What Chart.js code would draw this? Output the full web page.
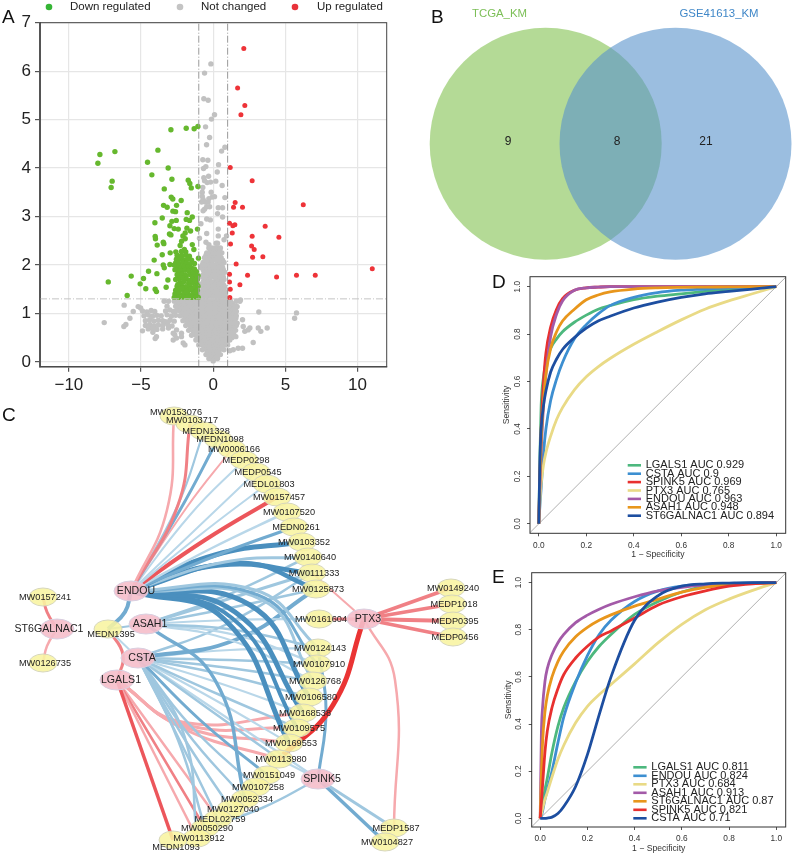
<!DOCTYPE html>
<html>
<head>
<meta charset="utf-8">
<title>Figure</title>
<script src="https://cdn.jsdelivr.net/npm/chart.js@4/dist/chart.umd.min.js"></script>
<style>
    html, body {margin: 0; padding: 0; background: #fff;}
    #page {position: relative; width: 796px; height: 856px; overflow: hidden;}
    canvas {position: absolute;}
    .letter {position: absolute; font: 19px "Liberation Sans", Arial, sans-serif; color: #111; line-height: 19px;}
</style>
</head>
<body>
<div id="page">
    <canvas id="volcano" width="400" height="400" style="left:0;top:0"></canvas>
    <canvas id="venn" width="386" height="270" style="left:410px;top:0"></canvas>
    <canvas id="network" width="485" height="456" style="left:0;top:400px"></canvas>
    <canvas id="rocTrain" width="316" height="300" style="left:480px;top:260px"></canvas>
    <canvas id="rocTest" width="316" height="300" style="left:480px;top:556px"></canvas>
    <div class="letter" style="left:2px;top:7px">A</div>
    <div class="letter" style="left:431px;top:7px">B</div>
    <div class="letter" style="left:2px;top:405px">C</div>
    <div class="letter" style="left:492px;top:272px">D</div>
    <div class="letter" style="left:492px;top:567px">E</div>
</div>
<script>
// panel A
const regulationLabels = ["Down regulated", "Not changed", "Up regulated"];
const volcanoXTicks = [-10, -5, 0, 5, 10];
const volcanoYTicks = [0, 1, 2, 3, 4, 5, 6, 7];

const upPoints = [[2.12,6.47],[1.69,5.65],[2.19,5.29],[1.92,5.1],[1.18,4.01],[2.7,3.74],[1.52,3.29],[1.41,3.19],[2.03,3.19],[6.24,3.24],
    [1.13,2.86],[1.5,2.83],[1.36,2.81],[3.6,2.8],[1.32,2.66],[2.7,2.59],[4.55,2.57],[1.2,2.43],[2.66,2.39],[2.84,2.32],[3.44,2.17],[2.73,2.16],
    [1.59,2.02],[11.02,1.92],[1.13,1.81],[2.38,1.79],[4.39,1.75],[5.77,1.79],[7.07,1.79],[1.13,1.65],[1.85,1.59],[1.18,1.5],[1.15,1.33]];

const downPoints = [[-2.93,4.79],[-1.87,4.82],[-1.32,4.81],[-1.06,4.86],[-7.85,4.28],[-6.81,4.34],[-7.99,4.1],[-3.83,4.37],[-4.55,4.12],[-3.12,4],
    [-4.25,3.86],[-7,3.73],[-7.07,3.6],[-2.86,3.77],[-1.73,3.75],[-1.62,3.68],[-1.52,3.59],[-1.06,3.62],[-3.39,3.57],[-2.91,3.4],[-2.8,3.36],[-2.22,3.33],
    [-3.44,3.23],[-3.19,3.19],[-2.54,3.23],[-2.79,3.11],[-2.61,3.1],[-1.8,3.08],[-1.45,2.99],[-1.87,2.94],[-1.64,2.92],[-3.53,2.97],[-4.04,2.87],[-2.86,2.9],
    [-2.56,2.92],[-3,2.81],[-2.7,2.75],[-2.42,2.74],[-1.82,2.76],[-1.57,2.7],[-1.09,2.74],[-3.03,2.64],[-2.93,2.62],[-1.94,2.66],[-2.1,2.6],[-4.02,2.59],
    [-4,2.54],[-2.19,2.49],[-1.94,2.54],[-3.46,2.47],[-3.42,2.44],[-3.88,2.41],[-1.45,2.42],[-2.29,2.4],[-1.34,2.32],[-2.59,2.27],[-2.98,2.25],[-3.53,2.21],
    [-2,2.32],[-4.09,2.1],[-1.02,2.14],[-3,2.01],[-3.46,2],[-3.39,1.94],[-4.48,1.87],[-3.9,1.82],[-5.68,1.77],[-4.83,1.72],[-7.27,1.65],[-5.06,1.61],
    [-4.67,1.51],[-4.02,1.5],[-3.93,1.45],[-5.96,1.37],[-3.14,1.69],[-3.26,1.54],
    [-2.2,2.28],[-1.9,2.27],[-2.5,2.2],[-2.2,2.19],[-1.9,2.21],[-1.65,2.18],[-2.55,2.12],[-2.3,2.13],[-2.05,2.11],[-1.8,2.12],[-1.5,2.1],
    [-2.6,2.04],[-2.35,2.03],[-2.1,2.05],[-1.85,2.04],[-1.6,2.02],[-1.3,2.03],[-2.5,1.96],[-2.25,1.95],[-2,1.97],[-1.75,1.96],[-1.5,1.94],
    [-2.45,1.88],[-2.2,1.87],[-1.95,1.89],[-1.7,1.88],[-1.15,1.86],[-2.4,1.8],[-2.15,1.81],[-1.9,1.79],[-1.6,1.8],[-1.3,1.78],
    [-2.35,1.72],[-2.1,1.73],[-1.85,1.71],[-1.45,1.72],[-1.1,1.7],[-2.3,1.64],[-2.05,1.65],[-1.7,1.63],[-1.4,1.64],[-1.15,1.62],
    [-2.5,1.56],[-2.2,1.57],[-1.9,1.55],[-1.6,1.56],[-1.3,1.54],[-1.05,1.56],[-2.6,1.48],[-2.3,1.49],[-2,1.47],[-1.7,1.48],[-1.4,1.46],[-1.1,1.48],
    [-2.65,1.4],[-2.35,1.41],[-2.05,1.39],[-1.75,1.4],[-1.45,1.38],[-1.15,1.4],[-2.7,1.33],[-2.4,1.33],[-2.1,1.34],[-1.8,1.33],[-1.5,1.33],[-1.2,1.34],[-1.03,1.33],
    [-2.45,1.6],[-2.6,1.7],[-2.5,1.8],[-1.25,1.68],[-1.05,1.78],[-1.4,1.85],[-2.65,1.9],[-2.7,2.0],[-1.55,1.5],[-1.85,1.44],[-2.15,1.52],[-1.25,1.44],[-1.6,1.68],[-1.3,1.92]];

const notChangedPoints = [[-.16,6.15],[-.6,5.96],[-.65,5.43],[-.35,5.4],[.09,5.1],[-.12,5.01],[-.53,4.85],[-.25,4.63],[-.46,4.48],[.81,4.43],[.58,4.35],
    [-.72,4.17],[-.37,4.16],[.37,4.07],[-.51,4.03],[-.67,3.99],[.28,3.92],[-.32,3.83],[-.65,3.8],[-.6,3.74],[.18,3.73],[-.42,3.7],[-.18,3.71],[.62,3.64],
    [-.72,3.6],[-.76,3.5],[-.14,3.5],[-.76,3.42],[.09,3.41],[.81,3.39],[-.3,3.37],[-.07,3.4],
    [-.8,3.3],[-.7,3.35],[-.55,3.3],[-.35,3.3],[-.25,3.2],[-.45,3.2],[-.6,3.15],[-.7,3.12],[.35,3.18],[.65,3.18],[.3,3.06],[.65,2.99],[-.45,2.95],[-.2,2.93],
    [-.85,2.85],[.35,2.74],[-.45,2.65],[.35,2.6],[.92,2.6],[.75,2.52],[-.95,2.55],[.2,2.45],[-.5,2.47],[-.3,2.42],[.3,2.45],
    // left cloud and sparse points
    [-7.55,.81],[-6.17,1.17],[-6.19,.73],[-6.05,.77],[-5.77,.9],[-5.54,1.04],[-5.2,1.14],[-5.03,1.11],[-4.9,.64],[-4.18,.61],[-4.02,.48],[-3.93,.52],
    [-4.9,1.05],[-4.6,1.03],[-4.3,1.06],[-4.05,1.04],[-3.3,1.05],[-3,1.07],[-2.75,1.04],[-4.8,.95],[-4.5,.97],[-4.2,.94],[-3.9,.96],[-3.6,.95],[-3.2,.97],[-2.9,.94],[-2.6,.96],
    [-4.7,.85],[-4.4,.87],[-4.1,.84],[-3.8,.86],[-3.5,.85],[-3.3,.83],[-3,.86],[-2.7,.84],[-4.7,.75],[-4.4,.77],[-4.1,.74],[-3.8,.76],[-3.5,.75],[-3.15,.77],[-2.85,.74],
    [-4.5,.68],[-4.2,.69],[-3.9,.67],[-3.5,.68],[-3.1,.7],[-2.77,.59],[-2.54,.66],[-2.2,.59],[-2.77,.45],[-2.54,.49],[-2.2,.52],[-2.08,.39],[-1.96,.35],[-2.66,.56],
    // right side
    [2.03,.87],[3.16,1.03],[5.77,1.01],[5.64,.9],[3.12,.7],[3.3,.63],[3.74,.7],[2.08,.73],[2.19,.63],[2.42,.66],[2.54,.7],[2.77,.4],[2.03,.28],[1.73,.28],
    [1.39,.25],[1.15,.23],[1.57,.52],[1.39,.59],[1.66,1.14],[1.89,1.28],[1.6,1.04],[1.57,.9],[1.66,.8]];

// rows of the dense grey block: -log10(p) then the fold changes seen on that row
const notChangedRows = [
    [2.35, [-.3,-.1,.15,.35,.5]],
    [2.3, [-.2,.05,.3,.45]],
    [2.25, [-.45,-.2,0,.2,.4,.6]],
    [2.2, [-.5,-.25,-.05,.2,.45]],
    [2.15, [-.6,-.35,-.15,.1,.3,.55]],
    [2.1, [-.5,-.25,0,.2,.4,.65]],
    [2.05, [-.7,-.4,-.1,.3,.5,.75]],
    [2, [-.75,-.5,-.3,-.05,.15,.4,.6]],
    [1.95, [-.85,-.55,-.2,.05,.4,.65]],
    [1.9, [-.7,-.45,-.1,.15,.4,.7]],
    [1.85, [-.6,-.3,0,.25,.55,.8]],
    [1.8, [-.7,-.4,-.15,.15,.4,.65]],
    [1.75, [-.8,-.5,-.15,.1,.45,.7]],
    [1.7, [-.6,-.25,.2,.45,.75]],
    [1.65, [-.7,-.35,-.05,.3,.6]],
    [1.6, [-.85,-.55,-.2,.1,.4,.7]],
    [1.55, [-.75,-.45,-.1,.2,.5,.8]],
    [1.5, [-.65,-.35,-.05,.25,.5,.7]],
    [1.45, [-.85,-.55,-.25,.05,.35,.65,.85]],
    [1.4, [-.75,-.4,-.15,.15,.45,.75]],
    [1.35, [-.9,-.6,-.3,0,.3,.6,.85]],
    [1.3, [-1.9,-1.6,-1.25,-.95,-.75,-.45,-.15,.15,.45,.75,.95]],
    [1.25, [-3.4,-3.1,-2.7,-2.4,-2.1,-1.8,-1.5,-1.2,-.9,-.6,-.3,0,.3,.6,.9,1.2,1.6,1.85]],
    [1.2, [-2.45,-2.25,-1.95,-1.65,-1.35,-1.05,-.75,-.45,-.15,.15,.45,.75,1.05,1.35]],
    [1.15, [-3.2,-2.6,-2.2,-1.9,-1.6,-1.3,-1,-.7,-.4,-.1,.2,.5,.8,1.1,1.4,1.6]],
    [1.1, [-2.45,-2.15,-1.85,-1.55,-1.25,-.95,-.65,-.35,-.05,.25,.55,.85,1.15,1.45]],
    [1.05, [-2.6,-2.3,-2,-1.7,-1.4,-1.1,-.8,-.5,-.2,.1,.4,.7,1,1.3,1.55]],
    [1, [-2.15,-1.85,-1.55,-1.25,-.95,-.65,-.35,-.05,.25,.55,.85,1.15,1.45]],
    [.95, [-2.3,-2,-1.7,-1.4,-1.1,-.8,-.5,-.2,.1,.4,.7,1,1.3,1.6]],
    [.9, [-1.95,-1.65,-1.35,-1.05,-.75,-.45,-.15,.15,.45,.75,1.05,1.35]],
    [.85, [-2.1,-1.8,-1.5,-1.2,-.9,-.6,-.3,0,.3,.6,.9,1.2,1.5]],
    [.8, [-1.75,-1.45,-1.15,-.85,-.55,-.25,.05,.35,.65,.95,1.25,1.5]],
    [.75, [-1.9,-1.6,-1.3,-1,-.7,-.4,-.1,.2,.5,.8,1.1,1.4,1.6]],
    [.7, [-1.55,-1.25,-.95,-.65,-.35,-.05,.25,.55,.85,1.15,1.45]],
    [.65, [-1.7,-1.4,-1.1,-.8,-.5,-.2,.1,.4,.7,1,1.3,1.55]],
    [.6, [-1.35,-1.05,-.75,-.45,-.15,.15,.45,.75,1.05,1.35]],
    [.55, [-1.5,-1.2,-.9,-.6,-.3,0,.3,.6,.9,1.2,1.45]],
    [.5, [-1.05,-.75,-.45,-.15,.15,.45,.75,1.05,1.3]],
    [.45, [-1.2,-.9,-.6,-.3,0,.3,.6,.9,1.15]],
    [.4, [-.85,-.55,-.25,.05,.35,.65,.95]],
    [.35, [-1,-.7,-.4,-.1,.2,.5,.8,1]],
    [.3, [-.6,-.3,0,.3,.6]],
    [.25, [-.75,-.45,-.15,.15,.45,.75]],
    [.2, [-.4,-.15,.1,.35]],
    [.15, [-.5,-.25,0,.25,.5]],
    [.1, [-.2,0,.2]],
    [.07, [-.3,-.1,.1,.3]],
    [.02, [0]]
];

// panel B
const setNames = ["TCGA_KM", "GSE41613_KM"];
const setCounts = ["9", "8", "21"];

// panel C
const geneNames = ["ENDOU", "ASAH1", "CSTA", "LGALS1", "PTX3", "SPINK5", "ST6GALNAC1"];
const geneX = [131, 146, 138, 117, 364, 318, 57];
const geneY = [591, 624, 658, 680, 619, 779, 629];

const mirnaNames = ["MW0153076", "MW0103717", "MEDN1328", "MEDN1098", "MW0006166", "MEDP0298", "MEDP0545", "MEDL01803", "MW0157457", "MW0107520",
    "MEDN0261", "MW0103352", "MW0140640", "MW0111333", "MW0125873", "MW0161604", "MW0149240", "MEDP1018", "MEDP0395", "MEDP0456",
    "MW0124143", "MW0107910", "MW0126768", "MW0106580", "MW0168538", "MW0109575", "MW0169553", "MW0113980", "MW0151049", "MW0107258",
    "MW0052334", "MW0127040", "MEDL02759", "MW0050290", "MW0113912", "MEDN1093", "MEDP1587", "MW0104827", "MW0157241", "MW0126735", "MEDN1395"];
const mirnaX = [174, 190, 204, 218, 232, 244, 256, 267, 277, 287, 294, 302, 308, 312, 316, 319, 451, 452, 453, 453,
    318, 317, 313, 309, 303, 297, 289, 279, 267, 256, 245, 231, 218, 205, 197, 173, 394, 385, 43, 43, 108];
const mirnaY = [416, 424, 431, 439, 449, 460, 472, 484, 497, 512, 527, 542, 557, 573, 589, 619, 588, 604, 621, 637,
    648, 664, 681, 697, 713, 728, 743, 759, 775, 787, 799, 809, 819, 828, 838, 840, 828, 842, 597, 663, 629];
const labelShift = {ST6GALNAC1: [-8, 0], MEDN1395: [3, 5], MEDN1093: [3, 7], ENDOU: [5, 0], MW0153076: [2, -4], MW0103717: [2, -4]};

const edgeColours = {PB: "#b9d7e9", LB: "#9fc7df", MB: "#72abd0", DB: "#4a8fbe", PR: "#f6a9ad", MR: "#f08085", SR: "#ec565b", XR: "#ea3434"};
// from, to, waypoint x, waypoint y (null when straight), width, colour
const edges = [
    ["ENDOU","MW0153076",167,510,2.6,"PR"],["ENDOU","MW0103717",178,505,3,"MR"],["ENDOU","MEDN1328",177,507,2.2,"LB"],["ENDOU","MEDN1098",180,510,3,"MB"],
    ["ENDOU","MW0006166",187,507,2,"PR"],["ENDOU","MEDP0298",190,515,2,"PB"],["ENDOU","MEDP0545",195,530,2,"PB"],["ENDOU","MEDL01803",200,535,2,"PB"],
    ["ENDOU","MW0157457",205,540,4,"SR"],["ENDOU","MW0107520",212,548,2.5,"PB"],["ENDOU","MEDN0261",215,556,3.2,"MB"],["ENDOU","MW0103352",215,555,5,"DB"],
    ["ENDOU","MW0140640",225,562,3,"LB"],["ENDOU","MW0111333",220,565,5,"DB"],["ENDOU","MW0125873",240,563,4.5,"DB"],["ENDOU","MEDN1395",125,612,4,"MB"],
    ["ENDOU","MW0124143",255,590,3,"LB"],["ENDOU","MW0107910",258,595,3,"MB"],["ENDOU","MW0126768",262,600,3,"LB"],["ENDOU","MW0106580",250,605,5,"DB"],
    ["ENDOU","MW0168538",235,612,5,"DB"],["ENDOU","MW0109575",232,618,4,"DB"],["ENDOU","MW0169553",225,620,5,"DB"],
    ["ASAH1","MW0161604",230,620,2.2,"PB"],["ASAH1","MW0125873",230,608,2.5,"LB"],["ASAH1","MW0111333",225,600,3,"LB"],["ASAH1","MW0140640",225,596,2.5,"LB"],
    ["ASAH1","MW0124143",235,630,2.5,"LB"],["ASAH1","MW0107910",235,635,2.2,"PB"],["ASAH1","MW0126768",230,640,2.2,"PB"],["ASAH1","MW0052334",215,680,3.5,"MB"],
    ["ASAH1","MEDN1395",null,null,2.2,"LB"],
    ["CSTA","MW0125873",235,640,4,"MB"],["CSTA","MW0111333",225,625,2.5,"LB"],["CSTA","MW0124143",230,650,2.2,"PB"],["CSTA","MW0107910",230,660,2.5,"LB"],
    ["CSTA","MW0126768",230,668,2.5,"LB"],["CSTA","MW0106580",225,675,2.5,"LB"],["CSTA","MW0168538",225,685,2.2,"PB"],["CSTA","MW0109575",220,695,2.5,"LB"],
    ["CSTA","MW0169553",215,700,2.2,"PB"],["CSTA","MW0113980",210,710,2.5,"LB"],["CSTA","MW0151049",200,720,3,"MB"],["CSTA","MW0107258",190,725,2.5,"LB"],
    ["CSTA","MW0052334",185,730,2.5,"LB"],["CSTA","MW0127040",182,735,2.5,"LB"],["CSTA","MEDL02759",178,737,2.5,"LB"],["CSTA","MW0050290",178,740,2.5,"LB"],
    ["CSTA","MW0113912",184,735,2.6,"LB"],["CSTA","MEDN1395",null,null,2,"PB"],["CSTA","SPINK5",null,null,2.2,"PB"],
    ["LGALS1","MEDN1093",null,null,3.5,"SR"],["LGALS1","MW0113912",null,null,2.5,"PR"],["LGALS1","MW0050290",null,null,2.5,"MR"],["LGALS1","MEDL02759",null,null,2.5,"PR"],
    ["LGALS1","MW0168538",182,722,3,"PR"],["LGALS1","MW0109575",182,724,3,"PR"],["LGALS1","MW0169553",182,726,3,"PR"],["LGALS1","MW0113980",182,728,3,"PR"],
    ["LGALS1","MEDN1395",123,655,3,"MR"],
    ["PTX3","MW0149240",null,null,3.5,"MR"],["PTX3","MEDP1018",null,null,3.5,"MR"],["PTX3","MEDP0395",null,null,4,"MR"],["PTX3","MEDP0456",null,null,3.5,"MR"],
    ["PTX3","MW0161604",null,null,3,"MR"],["PTX3","MW0111333",null,null,2,"PR"],["PTX3","MEDP1587",395,680,2.5,"PR"],["PTX3","MW0113980",333,705,5,"XR"],
    ["SPINK5","MW0124143",326,710,3,"MB"],["SPINK5","MW0113980",null,null,2.2,"PB"],["SPINK5","MW0050290",262,808,2.5,"LB"],["SPINK5","MEDP1587",null,null,3,"LB"],
    ["SPINK5","MW0104827",null,null,3.5,"MB"],
    ["ST6GALNAC1","MW0157241",47,612,3,"MR"],["ST6GALNAC1","MW0126735",47,646,2.5,"PR"]
];

// panels D and E share the false positive rates they were read at
const fpr = [0, .005, .01, .02, .03, .05, .075, .1, .15, .2, .25, .3, .4, .5, .6, .7, .8, .9, 1];
const rocTicks = [0, .2, .4, .6, .8, 1];
const rocColours = {green: "#4db87e", blue: "#3d8fd1", red: "#e8302f", yellow: "#e9da86", purple: "#a35aa8", orange: "#e8961c", navy: "#1d4ea0"};

const trainLabels = ["LGALS1 AUC 0.929", "CSTA AUC 0.9", "SPINK5 AUC 0.969", "PTX3 AUC 0.765", "ENDOU AUC 0.963", "ASAH1 AUC 0.948", "ST6GALNAC1 AUC 0.894"];
const trainColours = ["green", "blue", "red", "yellow", "purple", "orange", "navy"];
const trainLGALS1 = [0,.3,.5,.62,.68,.74,.78,.81,.85,.88,.905,.92,.945,.96,.97,.98,.99,.995,1];
const trainCSTA = [0,.08,.15,.3,.4,.52,.61,.68,.78,.84,.885,.92,.955,.975,.985,.99,.995,.998,1];
const trainSPINK5 = [0,.22,.4,.6,.72,.83,.905,.95,.985,.995,.998,1,1,1,1,1,1,1,1];
const trainPTX3 = [0,.1,.17,.25,.3,.37,.44,.49,.565,.62,.662,.697,.757,.81,.86,.905,.94,.97,1];
const trainENDOU = [0,.16,.3,.5,.63,.79,.885,.94,.985,.995,.998,1,1,1,1,1,1,1,1];
const trainASAH1 = [0,.2,.35,.52,.63,.74,.81,.855,.905,.945,.965,.978,.99,.995,.997,.998,.999,1,1];
const trainST6 = [0,.28,.4,.5,.56,.64,.695,.735,.785,.825,.855,.875,.91,.935,.955,.97,.98,.99,1];
const trainCurves = [trainLGALS1, trainCSTA, trainSPINK5, trainPTX3, trainENDOU, trainASAH1, trainST6];

const testLabels = ["LGALS1 AUC 0.811", "ENDOU AUC 0.824", "PTX3 AUC 0.684", "ASAH1 AUC 0.913", "ST6GALNAC1 AUC 0.87", "SPINK5 AUC 0.821", "CSTA AUC 0.71"];
const testColours = ["green", "blue", "yellow", "purple", "orange", "red", "navy"];
const testLGALS1 = [0,.03,.06,.12,.17,.28,.39,.47,.58,.665,.73,.78,.865,.92,.96,.985,.995,.998,1];
const testENDOU = [0,.01,.03,.08,.12,.2,.32,.43,.575,.69,.78,.84,.92,.965,.985,.992,.996,.998,1];
const testPTX3 = [0,.02,.04,.08,.11,.175,.25,.31,.405,.475,.525,.568,.655,.745,.823,.885,.93,.967,1];
const testASAH1 = [0,.36,.47,.58,.635,.695,.745,.78,.83,.862,.887,.908,.94,.965,.98,.99,.995,.998,1];
const testST6 = [0,.18,.32,.45,.52,.6,.665,.71,.77,.81,.84,.863,.9,.93,.96,.98,.992,.997,1];
const testSPINK5 = [0,.07,.14,.28,.37,.47,.55,.61,.68,.73,.77,.795,.85,.905,.94,.965,.985,.995,1];
const testCSTA = [0,0,0,0,.001,.005,.02,.05,.135,.27,.44,.6,.84,.945,.985,.995,.998,1,1];
const testCurves = [testLGALS1, testENDOU, testPTX3, testASAH1, testST6, testSPINK5, testCSTA];

const fontFamily = '"Liberation Sans", Arial, sans-serif';
Chart.defaults.font.family = fontFamily;
Chart.defaults.animation = false;
Chart.defaults.responsive = false;
Chart.defaults.plugins.legend.display = false;
Chart.defaults.plugins.tooltip.enabled = false;

const pairs = list => list.map(p => ({x: p[0], y: p[1]}));

const framePlugin = {
    id: "frame",
    afterDatasetsDraw(chart, args, opts) {
        const {left, top, width, height} = chart.chartArea;
        const ctx = chart.ctx;
        ctx.save();
        ctx.strokeStyle = opts.color;
        ctx.lineWidth = opts.width;
        ctx.strokeRect(left, top, width, height);
        ctx.restore();
    }
};

// panel A
const greyPoints = notChangedPoints.map(p => ({x: p[0], y: p[1]}));
notChangedRows.forEach(([y, xs]) => xs.forEach(x => greyPoints.push({x, y})));

const refLine = (data, color) => ({type: "line", data, borderColor: color, borderWidth: 1, borderDash: [7, 2, 1, 2], pointRadius: 0, order: 0});

new Chart(document.getElementById("volcano"), {
    type: "scatter",
    data: {
        datasets: [
            {label: regulationLabels[0], data: pairs(downPoints), backgroundColor: "#66b82e", pointRadius: 2.7, borderWidth: 0, order: 1},
            {label: regulationLabels[1], data: greyPoints, backgroundColor: "#c1c1c1", pointRadius: 2.7, borderWidth: 0, order: 3},
            {label: regulationLabels[2], data: pairs(upPoints), backgroundColor: "#ee3338", pointRadius: 2.5, borderWidth: 0, order: 2},
            refLine([{x: -1, y: -.1}, {x: -1, y: 7}], "#9a9a9a"),
            refLine([{x: 1, y: -.1}, {x: 1, y: 7}], "#9a9a9a"),
            refLine([{x: -12, y: 1.3}, {x: 12, y: 1.3}], "#c4c4c4")
        ]
    },
    options: {
        layout: {padding: {top: 22.7, right: 13.3}, autoPadding: false},
        scales: {
            x: {
                min: -12, max: 12.02,
                afterBuildTicks: s => { s.ticks = volcanoXTicks.map(value => ({value})); },
                afterFit: s => { s.height = 33.3; },
                grid: {color: "#e6e6e6", lineWidth: 1.2, tickColor: "#555", tickLength: 5},
                border: {color: "#666", width: 1.5},
                ticks: {font: {size: 17}, color: "#222", padding: 3, maxRotation: 0, callback: v => String(v).replace("-", "\u2212")}
            },
            y: {
                min: -.1, max: 7,
                afterBuildTicks: s => { s.ticks = volcanoYTicks.map(value => ({value})); },
                afterFit: s => { s.width = 40; },
                grid: {color: "#e6e6e6", lineWidth: 1.2, tickColor: "#555", tickLength: 5},
                border: {color: "#666", width: 2},
                ticks: {font: {size: 17}, color: "#222", padding: 4}
            }
        },
        plugins: {frame: {color: "#444", width: 1}}
    },
    plugins: [framePlugin, {
        id: "topKey",
        afterDraw(chart) {
            const ctx = chart.ctx;
            const markX = [49, 180, 295];
            const textX = [70, 201, 317];
            const keyColours = ["#35b535", "#c4c4c4", "#e8323a"];
            ctx.save();
            ctx.font = `11.5px ${fontFamily}`;
            ctx.fillStyle = "#222";
            ctx.textBaseline = "middle";
            regulationLabels.forEach((t, i) => {
                ctx.fillStyle = keyColours[i];
                ctx.beginPath();
                ctx.arc(markX[i], 7, 3.3, 0, Math.PI * 2);
                ctx.fill();
                ctx.fillStyle = "#222";
                ctx.fillText(t, textX[i], 7);
            });
            ctx.restore();
        }
    }]
});

// panel B
new Chart(document.getElementById("venn"), {
    type: "bubble",
    data: {
        datasets: [
            {label: setNames[0], data: [{x: 135.7, y: 143.7, r: 116}], backgroundColor: "rgba(130,193,80,.6)", borderWidth: 0, clip: false, order: 2},
            {label: setNames[1], data: [{x: 265.5, y: 143.7, r: 116}], backgroundColor: "rgba(88,147,203,.6)", borderWidth: 0, clip: false, order: 1}
        ]
    },
    options: {
        layout: {autoPadding: false},
        scales: {
            x: {display: false, min: 0, max: 386},
            y: {display: false, min: 0, max: 270, reverse: true}
        }
    },
    plugins: [{
        id: "setText",
        afterDatasetsDraw(chart) {
            const ctx = chart.ctx;
            const {x, y} = chart.scales;
            ctx.save();
            ctx.textAlign = "center";
            ctx.textBaseline = "middle";
            ctx.font = `11.4px ${fontFamily}`;
            ctx.fillStyle = "#7cbf57";
            ctx.fillText(setNames[0], x.getPixelForValue(89.5), y.getPixelForValue(14));
            ctx.fillStyle = "#3f87c8";
            ctx.fillText(setNames[1], x.getPixelForValue(309), y.getPixelForValue(14));
            ctx.font = `12px ${fontFamily}`;
            ctx.fillStyle = "#222";
            [98, 207, 296].forEach((cx, i) => ctx.fillText(setCounts[i], x.getPixelForValue(cx), y.getPixelForValue(142)));
            ctx.restore();
        }
    }]
});

// panel C
function ellipseSprite(rx, ry, fill, stroke) {
    const c = document.createElement("canvas");
    c.width = rx * 2 + 2;
    c.height = ry * 2 + 2;
    const g = c.getContext("2d");
    g.beginPath();
    g.ellipse(rx + 1, ry + 1, rx, ry, 0, 0, Math.PI * 2);
    g.fillStyle = fill;
    g.fill();
    g.strokeStyle = stroke;
    g.lineWidth = 1;
    g.stroke();
    return c;
}

const nodePos = {};
geneNames.forEach((n, i) => { nodePos[n] = {x: geneX[i], y: geneY[i]}; });
mirnaNames.forEach((n, i) => { nodePos[n] = {x: mirnaX[i], y: mirnaY[i]}; });

const edgeSets = edges.map(([from, to, mx, my, width, colour]) => ({
    type: "line",
    data: mx === null ? [nodePos[from], nodePos[to]] : [nodePos[from], {x: mx, y: my}, nodePos[to]],
    borderColor: edgeColours[colour],
    borderWidth: width,
    tension: .45,
    pointRadius: 0,
    order: 3
}));

new Chart(document.getElementById("network"), {
    type: "scatter",
    data: {
        datasets: [
            {data: mirnaNames.map(n => ({...nodePos[n], name: n})), pointStyle: ellipseSprite(14, 9, "rgba(248,244,160,.88)", "#d6d6bc"), order: 1},
            {data: geneNames.map(n => ({...nodePos[n], name: n})), pointStyle: ellipseSprite(17, 10, "rgba(245,190,202,.9)", "#d9cfe0"), order: 1},
            ...edgeSets
        ]
    },
    options: {
        layout: {autoPadding: false},
        scales: {
            x: {display: false, min: 0, max: 485},
            y: {display: false, min: 400, max: 856, reverse: true}
        }
    },
    plugins: [{
        id: "nodeText",
        afterDatasetsDraw(chart) {
            const ctx = chart.ctx;
            ctx.save();
            ctx.textAlign = "center";
            ctx.textBaseline = "middle";
            ctx.fillStyle = "#222";
            [0, 1].forEach(d => {
                ctx.font = `${d === 0 ? 9.2 : 10.6}px ${fontFamily}`;
                chart.getDatasetMeta(d).data.forEach((el, i) => {
                    const name = chart.data.datasets[d].data[i].name;
                    const shift = labelShift[name] || [d === 0 ? 2 : 4, 0];
                    ctx.fillText(name, el.x + shift[0], el.y + shift[1]);
                });
            });
            ctx.restore();
        }
    }]
});

// panels D and E
function rocChart(id, labels, colours, curves, box, key) {
    const sets = labels.map((label, i) => ({
        type: "line",
        label,
        data: fpr.map((x, j) => ({x, y: curves[i][j]})),
        borderColor: rocColours[colours[i]],
        borderWidth: 2.8,
        cubicInterpolationMode: "monotone",
        pointRadius: 0,
        order: -i
    }));
    const axis = {color: "#333", size: 8.3};
    new Chart(document.getElementById(id), {
        type: "scatter",
        data: {
            datasets: [...sets, {
                type: "line",
                data: [{x: -.05, y: -.05}, {x: 1.05, y: 1.05}],
                borderColor: "#b0b0b0",
                borderWidth: 1,
                pointRadius: 0,
                order: 5
            }]
        },
        options: {
            layout: {padding: {left: box.padLeft, right: box.padRight, top: box.padTop, bottom: box.padBottom}, autoPadding: false},
            scales: {
                x: {
                    min: box.xMin, max: box.xMax,
                    afterBuildTicks: s => { s.ticks = rocTicks.map(value => ({value})); },
                    afterFit: s => { s.height = box.axisH; },
                    grid: {drawOnChartArea: false, tickLength: 3, tickColor: "#555"},
                    border: {display: false},
                    ticks: {font: {size: axis.size}, color: axis.color, padding: 4, maxRotation: 0, callback: v => v.toFixed(1)},
                    title: {display: true, text: "1 \u2212 Specificity", font: {size: 8.6}, color: axis.color, padding: 0}
                },
                y: {
                    min: box.yMin, max: box.yMax,
                    afterBuildTicks: s => { s.ticks = rocTicks.map(value => ({value})); },
                    afterFit: s => { s.width = box.axisW; },
                    grid: {drawOnChartArea: false, tickLength: 3, tickColor: "#555"},
                    border: {display: false},
                    ticks: {font: {size: axis.size}, color: axis.color, padding: 4, minRotation: 90, maxRotation: 90, crossAlign: "center", callback: v => v.toFixed(1)},
                    title: {display: true, text: "Sensitivity", font: {size: 8.6}, color: axis.color, padding: 0}
                }
            },
            plugins: {frame: {color: "#333", width: 1}}
        },
        plugins: [framePlugin, {
            id: "curveKey",
            afterDraw(chart) {
                const ctx = chart.ctx;
                ctx.save();
                ctx.font = `11px ${fontFamily}`;
                ctx.textBaseline = "middle";
                ctx.lineWidth = 2.6;
                labels.forEach((t, i) => {
                    const rowY = key.y + i * key.step;
                    ctx.strokeStyle = rocColours[colours[i]];
                    ctx.beginPath();
                    ctx.moveTo(key.x, rowY);
                    ctx.lineTo(key.x + 13.3, rowY);
                    ctx.stroke();
                    ctx.fillStyle = "#222";
                    ctx.fillText(t, key.x + 18, rowY);
                });
                ctx.restore();
            }
        }]
    });
}

rocChart("rocTrain", trainLabels, trainColours, trainCurves,
    {padLeft: 21, padRight: 10.3, padTop: 16.7, padBottom: 0, axisW: 29, axisH: 26.7, xMin: -.037, xMax: 1.04, yMin: -.04, yMax: 1.042},
    {x: 147.7, y: 205.3, step: 8.4});
rocChart("rocTest", testLabels, testColours, testCurves,
    {padLeft: 23, padRight: 10.3, padTop: 16.7, padBottom: 2, axisW: 28.7, axisH: 27, xMin: -.036, xMax: 1.04, yMin: -.037, yMax: 1.042},
    {x: 153.3, y: 211.3, step: 8.5});
</script>
</body>
</html>
